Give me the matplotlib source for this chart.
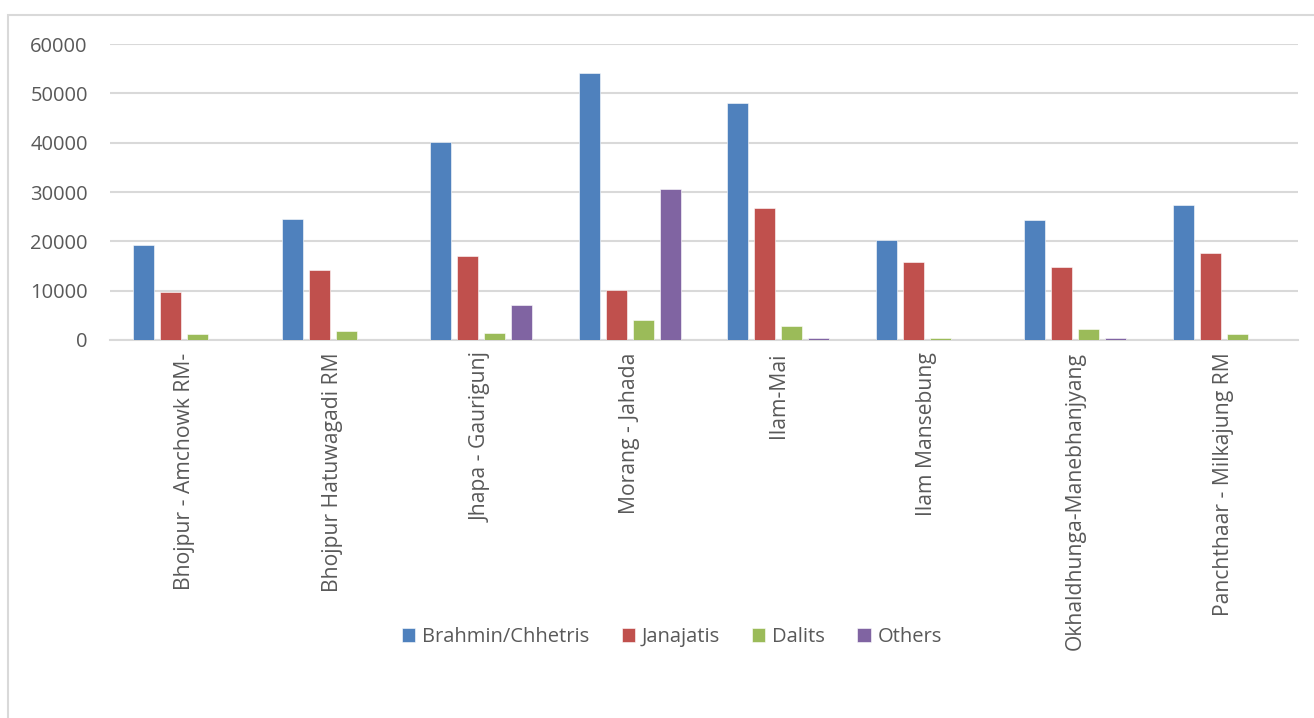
import matplotlib.pyplot as plt
import numpy as np
from matplotlib.patches import Rectangle

# --- data ---
places = ['Bhojpur - Amchowk RM-', 'Bhojpur Hatuwagadi RM', 'Jhapa - Gaurigunj',
          'Morang - Jahada', 'Ilam-Mai', 'Ilam Mansebung',
          'Okhaldhunga-Manebhanjyang', 'Panchthaar - Milkajung RM']
brahmin = [19300, 24500, 40200, 54100, 48100, 20300, 24400, 27400]
janajatis = [9800, 14100, 17000, 10200, 26800, 15800, 14700, 17600]
dalits = [1300, 1800, 1500, 4100, 2800, 500, 2200, 1200]
others = [0, 100, 7000, 30700, 400, 0, 400, 60]
# --------------------------------

series = [('Brahmin/Chhetris', brahmin, '#4f81bd'),
          ('Janajatis', janajatis, '#c0504d'),
          ('Dalits', dalits, '#9bbb59'),
          ('Others', others, '#8064a2')]

plt.rcParams['font.family'] = ['Open Sans', 'DejaVu Sans']
txt = '#595959'

W, H = 1314, 718
fig = plt.figure(figsize=(W / 100, H / 100), dpi=100)
ax = fig.add_axes([110 / W, 1 - 340 / H, (1298 - 110) / W, (340 - 44) / H])

# outer chart border
fig.patches.append(Rectangle((8 / W, -0.01), 1.02, 1 - 15 / H + 0.01,
                             transform=fig.transFigure, fill=False,
                             edgecolor='#d9d9d9', linewidth=1.5))

x = np.arange(len(places))
width = 0.141
step = 0.182
for i, (name, vals, col) in enumerate(series):
    ax.bar(x + (i - 1.5) * step, vals, width, color=col, label=name,
           edgecolor='white', linewidth=0.4, zorder=3)

ax.set_xlim(-0.5, len(places) - 0.5)
ax.set_ylim(0, 60000)
ax.set_yticks(range(0, 60001, 10000))
ax.grid(axis='y', color='#d9d9d9', linewidth=1.5, zorder=0)
for s in ['top', 'right', 'left']:
    ax.spines[s].set_visible(False)
ax.spines['bottom'].set_color('#d9d9d9')
ax.spines['bottom'].set_linewidth(1.5)

ax.set_xticks(x)
ax.set_xticklabels(places, rotation=90, fontsize=15.2, color=txt)
ax.tick_params(axis='x', length=0, pad=9)
ax.tick_params(axis='y', length=0, labelsize=14.5, labelcolor=txt, pad=16)

fig.legend(loc='center', bbox_to_anchor=(672 / W, 1 - 637 / H), ncol=4,
           frameon=False, fontsize=14.5, handlelength=0.65, handleheight=0.65,
           handletextpad=0.35, columnspacing=1.6, labelcolor=txt)

plt.savefig('out.png', dpi=100)
